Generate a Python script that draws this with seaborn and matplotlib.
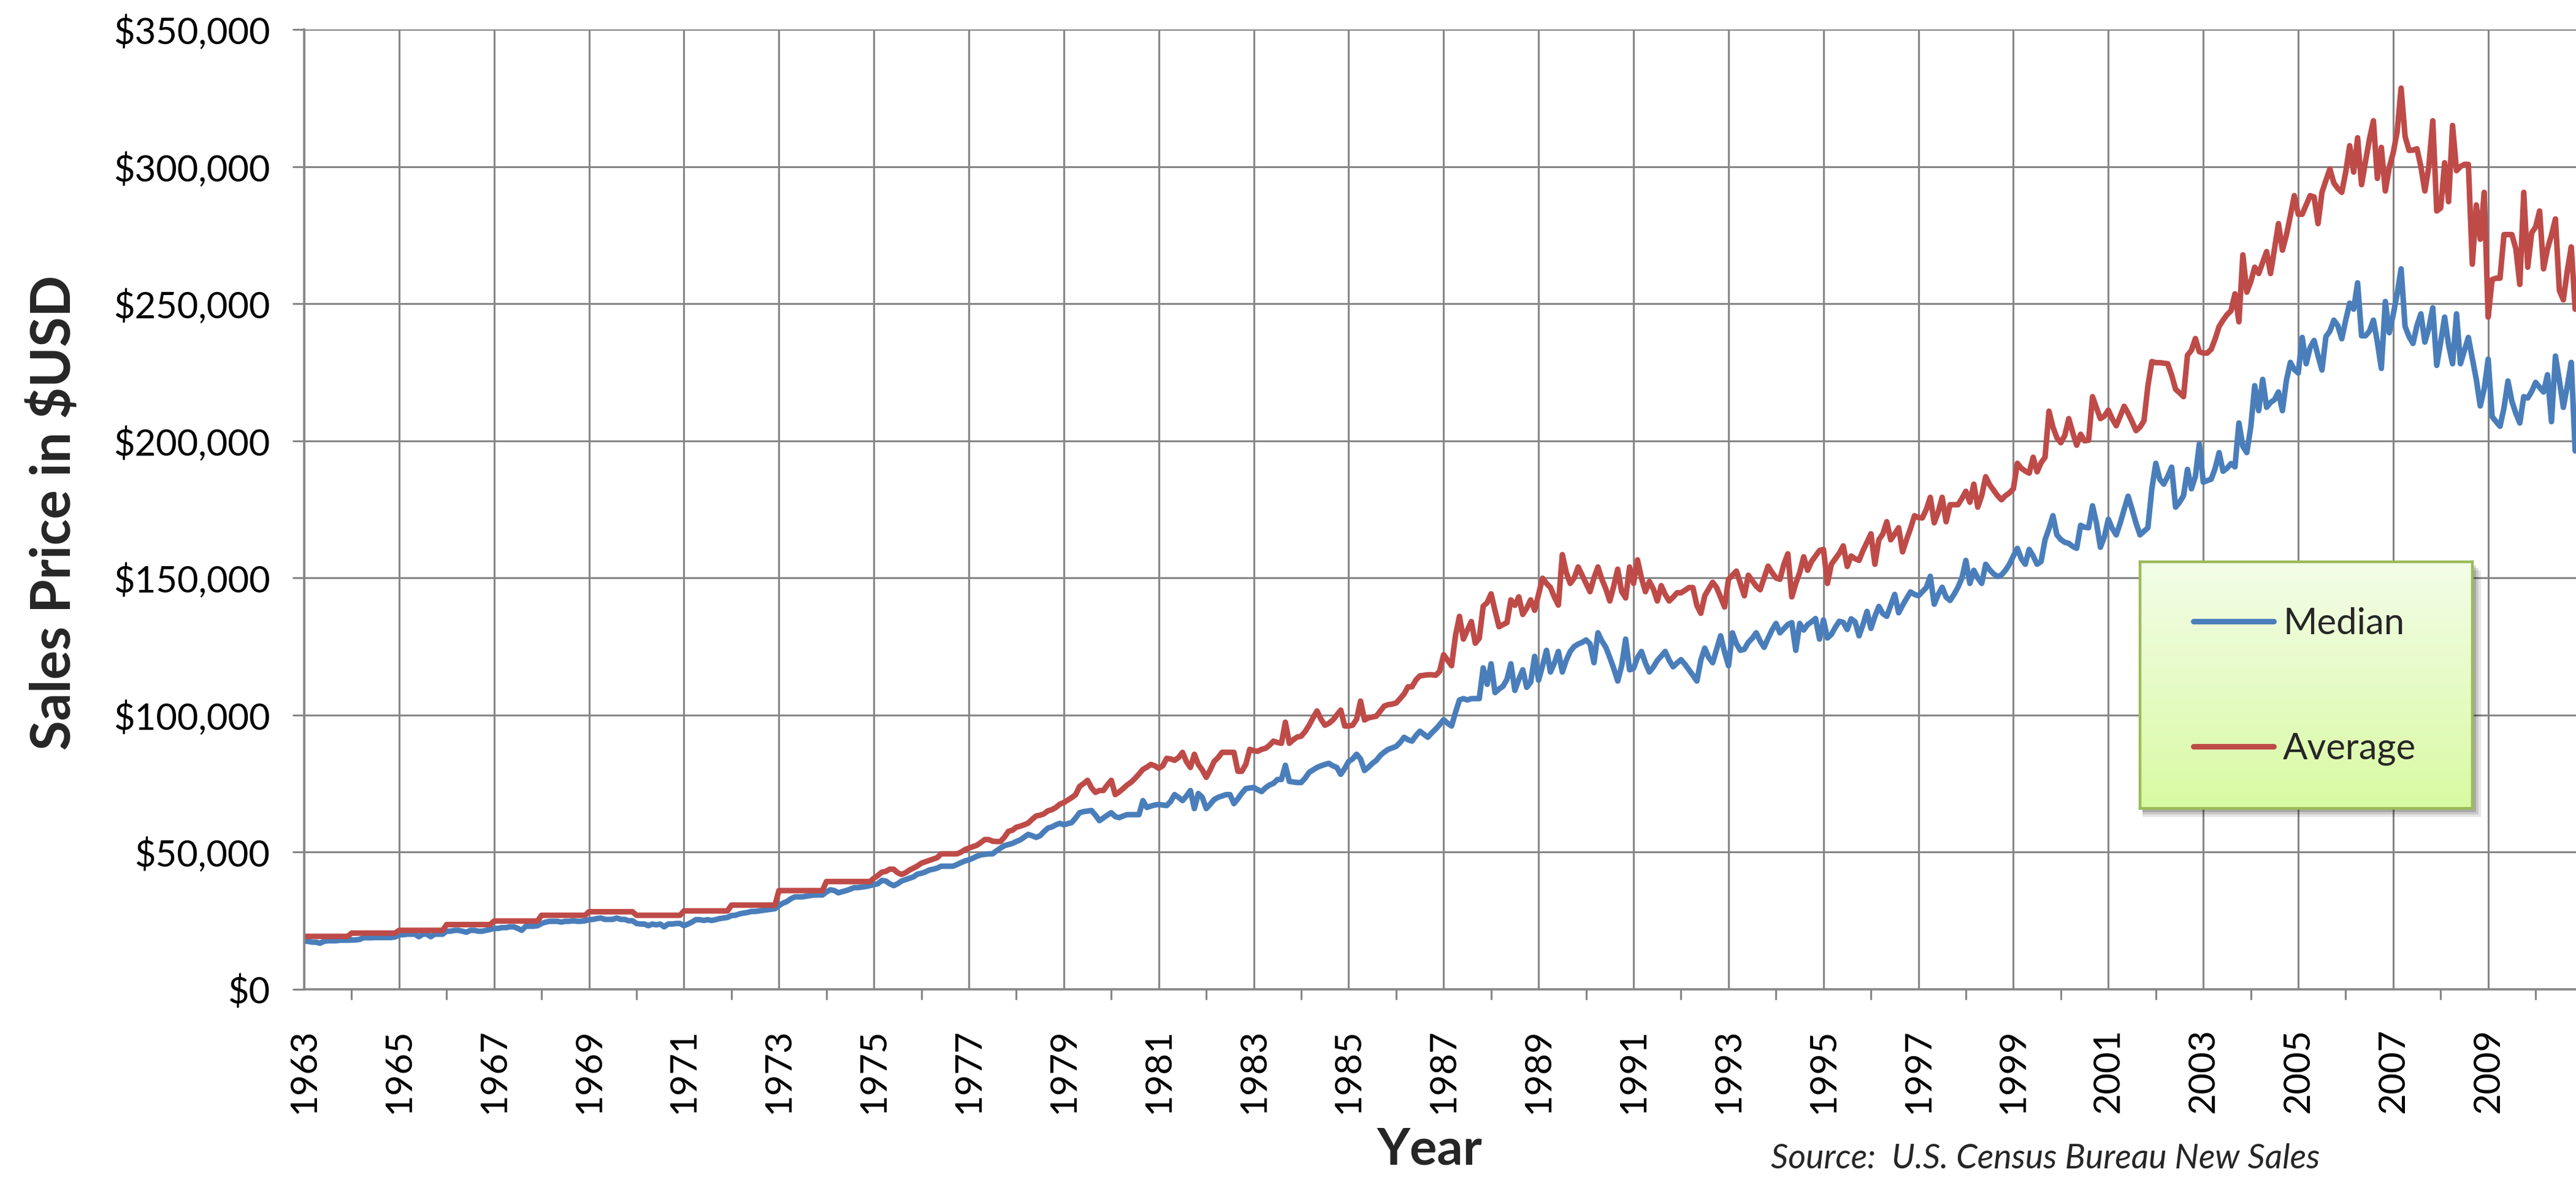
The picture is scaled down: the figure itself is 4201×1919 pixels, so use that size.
import numpy as np
import pandas as pd
import matplotlib
matplotlib.use("Agg")
import matplotlib.pyplot as plt
import seaborn as sns
from matplotlib.colors import LinearSegmentedColormap
from matplotlib.patches import Rectangle
from matplotlib.ticker import FuncFormatter, FixedLocator

# monthly new home sales prices, $ thousands, one row per year starting Jan 1963
START_YEAR = 1963

MEDIAN_K = [
    17.5, 17.5, 17.2, 17.2, 16.8, 17.5, 17.7, 17.7, 17.7, 17.9, 17.9, 17.9,
    18.0, 18.0, 18.2, 18.8, 18.8, 18.8, 18.9, 18.9, 18.9, 18.9, 18.9, 19.1,
    19.9, 19.9, 20.1, 20.1, 20.1, 19.2, 20.1, 20.1, 19.2, 20.1, 20.1, 20.1,
    21.2, 21.2, 21.5, 21.5, 21.2, 20.8, 21.5, 21.5, 21.2, 21.2, 21.5, 21.8,
    22.2, 22.2, 22.5, 22.5, 22.8, 22.8, 22.2, 21.5, 23.0, 23.0, 23.0, 23.2,
    24.0, 24.5, 24.8, 24.8, 24.8, 24.5, 24.8, 24.8, 25.0, 24.8, 24.8, 25.0,
    25.4, 25.5, 25.8, 26.0, 25.5, 25.5, 25.5, 26.0, 25.5, 25.5, 25.0, 25.0,
    24.0, 23.8, 23.8, 23.2, 23.8, 23.5, 23.8, 22.8, 23.8, 23.8, 24.0, 24.0,
    23.2, 23.8, 24.5, 25.4, 25.4, 25.1, 25.4, 25.1, 25.4, 25.8, 26.0, 26.2,
    26.9, 27.0, 27.5, 27.8, 28.0, 28.4, 28.4, 28.6, 28.8, 29.0, 29.2, 29.4,
    30.5, 31.4, 32.0, 33.0, 33.7, 33.7, 33.7, 34.0, 34.2, 34.4, 34.4, 34.4,
    35.5, 36.3, 36.0, 35.2, 35.6, 36.0, 36.5, 37.1, 37.1, 37.3, 37.5, 37.8,
    38.2, 38.5, 39.7, 39.5, 38.5, 37.8, 38.5, 39.5, 40.0, 40.5, 41.0, 42.0,
    42.3, 42.8, 43.5, 43.8, 44.2, 44.9, 44.9, 44.9, 44.9, 45.5, 46.2, 46.8,
    47.2, 47.8, 48.5, 49.0, 49.2, 49.4, 49.4, 50.5, 51.5, 52.4, 52.8, 53.2,
    53.9, 54.5, 55.5, 56.5, 56.0, 55.4, 56.0, 57.5, 58.8, 59.2, 60.0, 60.5,
    60.0, 60.4, 60.8, 62.5, 64.4, 64.8, 65.0, 65.2, 63.5, 61.5, 62.5, 63.5,
    64.4, 63.0, 62.6, 63.2, 63.7, 63.7, 63.7, 63.7, 68.8, 66.3, 66.8, 67.2,
    67.4, 67.2, 67.0, 68.5, 71.0, 70.0, 68.8, 70.5, 72.5, 65.9, 71.4, 70.0,
    65.9, 67.5, 69.2, 70.0, 70.5, 71.0, 71.0, 67.7, 69.5, 71.5, 73.2, 73.4,
    73.6, 72.8, 72.1, 73.5, 74.5, 75.1, 76.5, 76.5, 81.7, 75.8, 75.6, 75.4,
    75.4, 77.0, 79.1, 80.0, 80.9, 81.5, 82.0, 82.4, 81.5, 80.9, 78.4, 80.5,
    83.1, 84.0, 85.7, 84.0, 79.8, 81.0, 82.4, 83.5, 85.3, 86.5, 87.5, 88.0,
    88.6, 90.0, 91.9, 91.0, 90.5, 92.5, 94.1, 93.0, 91.9, 93.5, 94.9, 96.5,
    98.3, 97.0, 96.0, 101.0, 105.5, 106.0, 105.5, 106.0, 106.0, 106.0, 117.2, 111.2,
    118.7, 108.2, 109.5, 110.5, 113.0, 118.7, 109.0, 113.0, 116.5, 110.1, 112.0, 121.4,
    112.7, 118.0, 123.6, 115.7, 119.0, 123.2, 115.7, 120.0, 123.2, 125.0, 125.9, 126.5,
    127.4, 126.0, 119.1, 130.0, 127.0, 124.7, 121.0, 117.0, 112.4, 118.0, 127.7, 116.5,
    117.0, 121.0, 123.2, 119.0, 115.7, 117.5, 119.9, 121.5, 123.2, 120.0, 117.6, 119.0,
    120.2, 118.5, 116.5, 114.5, 112.4, 120.0, 124.4, 121.0, 119.1, 124.0, 128.9, 123.0,
    118.0, 130.0, 126.0, 123.6, 124.0, 126.5, 128.0, 130.0, 127.0, 124.7, 128.0, 131.0,
    133.4, 130.0, 131.5, 133.0, 133.7, 123.6, 133.4, 131.0, 133.0, 134.0, 135.2, 127.7,
    134.7, 128.1, 129.4, 132.0, 134.2, 133.8, 131.2, 135.1, 134.0, 128.9, 133.0, 137.8,
    131.6, 136.0, 139.6, 137.0, 136.0, 140.0, 144.0, 137.3, 140.0, 142.5, 144.9, 144.0,
    143.5, 145.0, 146.5, 150.6, 140.4, 144.0, 146.6, 143.0, 141.8, 144.0, 146.6, 150.0,
    156.4, 148.0, 152.8, 150.0, 148.0, 155.0, 153.0, 151.5, 150.5, 151.1, 152.8, 155.0,
    158.0, 160.8, 157.0, 155.0, 160.4, 158.0, 155.0, 156.0, 163.9, 168.0, 172.7, 165.7,
    164.0, 163.0, 162.6, 161.5, 160.8, 169.2, 168.5, 168.3, 176.3, 170.0, 161.2, 165.0,
    171.4, 168.0, 165.7, 170.0, 175.0, 179.8, 175.0, 170.0, 165.7, 167.0, 168.3, 182.5,
    191.8, 186.0, 184.2, 187.0, 190.4, 175.8, 177.6, 180.0, 189.6, 182.5, 187.0, 198.8,
    184.9, 185.5, 186.0, 190.0, 195.7, 188.9, 190.0, 191.7, 190.5, 206.5, 198.0, 195.7,
    205.0, 220.1, 211.0, 222.4, 212.2, 214.0, 215.0, 217.8, 211.0, 222.0, 228.6, 226.0,
    224.7, 237.7, 228.1, 234.0, 236.6, 231.0, 225.8, 238.0, 240.0, 244.0, 242.0, 237.2,
    244.0, 250.2, 248.0, 257.6, 238.3, 238.3, 240.0, 244.0, 236.0, 226.4, 250.8, 239.4,
    246.0, 253.6, 262.7, 241.7, 238.0, 235.5, 242.0, 246.3, 236.0, 241.0, 248.5, 227.5,
    236.0, 245.1, 235.0, 228.1, 246.3, 228.1, 233.0, 237.7, 230.0, 222.4, 212.7, 219.0,
    229.8, 208.8, 207.0, 205.3, 212.0, 221.8, 214.4, 210.0, 206.5, 216.1, 215.6, 218.0,
    221.3, 219.5, 217.8, 224.1, 207.0, 230.9, 222.0, 212.2, 220.0, 228.6, 196.3, 213.4,
]

AVERAGE_K = [
    19.3, 19.3, 19.3, 19.3, 19.3, 19.3, 19.3, 19.3, 19.3, 19.3, 19.3, 19.3,
    20.5, 20.5, 20.5, 20.5, 20.5, 20.5, 20.5, 20.5, 20.5, 20.5, 20.5, 20.5,
    21.5, 21.5, 21.5, 21.5, 21.5, 21.5, 21.5, 21.5, 21.5, 21.5, 21.5, 21.5,
    23.6, 23.6, 23.6, 23.6, 23.6, 23.6, 23.6, 23.6, 23.6, 23.6, 23.6, 23.6,
    24.9, 24.9, 24.9, 24.9, 24.9, 24.9, 24.9, 24.9, 24.9, 24.9, 24.9, 24.9,
    27.0, 27.0, 27.0, 27.0, 27.0, 27.0, 27.0, 27.0, 27.0, 27.0, 27.0, 27.0,
    28.3, 28.3, 28.3, 28.3, 28.3, 28.3, 28.3, 28.3, 28.3, 28.3, 28.3, 28.3,
    27.0, 27.0, 27.0, 27.0, 27.0, 27.0, 27.0, 27.0, 27.0, 27.0, 27.0, 27.0,
    28.6, 28.6, 28.6, 28.6, 28.6, 28.6, 28.6, 28.6, 28.6, 28.6, 28.6, 28.6,
    30.7, 30.7, 30.7, 30.7, 30.7, 30.7, 30.7, 30.7, 30.7, 30.7, 30.7, 30.7,
    36.0, 36.0, 36.0, 36.0, 36.0, 36.0, 36.0, 36.0, 36.0, 36.0, 36.0, 36.0,
    39.3, 39.3, 39.3, 39.3, 39.3, 39.3, 39.3, 39.3, 39.3, 39.3, 39.3, 39.3,
    40.5, 41.5, 42.7, 43.0, 43.8, 43.8, 42.5, 41.9, 42.5, 43.5, 44.2, 45.0,
    46.0, 46.5, 47.0, 47.5, 48.0, 49.4, 49.4, 49.4, 49.4, 49.4, 50.0, 50.9,
    51.5, 52.0, 52.5, 53.5, 54.6, 54.6, 54.0, 53.9, 53.9, 55.5, 57.6, 58.0,
    59.1, 59.5, 60.0, 60.6, 62.0, 63.2, 63.5, 64.0, 65.1, 65.5, 66.3, 67.5,
    68.1, 69.0, 69.9, 71.0, 74.0, 75.0, 76.2, 73.5, 71.8, 72.5, 72.5, 74.5,
    76.2, 71.0, 72.0, 73.2, 74.5, 75.5, 76.9, 78.5, 80.2, 81.0, 82.0, 81.5,
    80.6, 81.5, 84.2, 84.0, 83.5, 84.5, 86.4, 83.0, 80.9, 85.7, 82.0, 80.0,
    77.3, 80.0, 83.1, 84.5, 86.4, 86.4, 86.4, 86.4, 79.5, 79.5, 82.0, 87.5,
    87.0, 86.8, 87.5, 87.9, 89.0, 90.5, 90.0, 89.7, 97.4, 89.7, 91.0, 92.0,
    92.3, 94.0, 96.3, 99.0, 101.5, 98.5, 96.3, 97.0, 98.2, 100.0, 101.8, 96.0,
    96.0, 96.3, 98.5, 105.1, 98.2, 99.0, 99.3, 99.6, 101.5, 103.3, 103.8, 104.0,
    104.4, 106.0, 107.7, 110.3, 110.3, 112.8, 114.3, 114.5, 114.7, 114.7, 114.5, 116.0,
    122.0, 120.0, 118.0, 129.0, 136.0, 127.7, 131.0, 134.1, 126.2, 128.0, 139.7, 141.0,
    144.2, 138.0, 132.2, 133.0, 133.7, 142.0, 140.0, 143.1, 136.7, 139.0, 142.0, 138.2,
    144.0, 149.9, 148.0, 146.5, 143.0, 140.1, 158.5, 152.0, 148.0, 150.0, 154.0, 151.0,
    148.0, 145.0, 150.0, 154.0, 149.5, 146.0, 141.6, 147.0, 153.2, 145.0, 142.7, 154.0,
    148.0, 156.6, 150.0, 145.0, 148.7, 146.0, 141.6, 147.2, 144.0, 141.6, 143.0, 144.6,
    144.6, 145.5, 146.5, 146.5, 140.0, 137.1, 143.5, 146.0, 148.4, 146.5, 143.0, 139.4,
    149.5, 151.0, 152.5, 148.0, 143.5, 151.0, 149.0, 147.0, 145.7, 150.0, 154.3, 152.0,
    150.0, 149.5, 155.0, 158.8, 143.1, 148.0, 152.0, 157.7, 152.8, 156.0, 158.0, 160.0,
    160.4, 148.0, 155.0, 157.0, 159.0, 161.7, 154.2, 158.0, 157.0, 156.4, 160.0, 163.0,
    166.1, 155.0, 163.9, 166.0, 170.5, 163.9, 166.0, 168.3, 159.5, 164.0, 168.0, 172.7,
    172.0, 171.9, 175.0, 179.4, 170.1, 174.0, 179.4, 170.5, 176.7, 176.7, 176.7, 179.0,
    181.6, 177.6, 184.2, 175.8, 180.0, 186.9, 184.0, 182.0, 180.0, 178.5, 180.0, 181.0,
    182.5, 191.8, 190.0, 189.0, 188.2, 194.0, 188.7, 192.0, 194.0, 210.8, 205.0, 201.1,
    199.3, 202.0, 208.1, 203.0, 198.4, 202.4, 200.0, 200.2, 216.1, 212.0, 208.1, 209.0,
    211.2, 208.0, 205.5, 209.0, 212.6, 210.0, 207.0, 203.7, 205.0, 207.3, 220.0, 228.9,
    228.5, 228.5, 228.3, 228.1, 224.0, 218.8, 217.5, 216.1, 231.2, 233.0, 237.3, 232.5,
    232.0, 232.0, 233.4, 237.2, 241.7, 244.0, 246.0, 247.4, 253.6, 243.4, 267.8, 254.2,
    258.0, 263.3, 261.0, 265.0, 269.0, 261.0, 270.0, 279.2, 269.5, 275.0, 282.0, 289.4,
    282.6, 282.6, 286.0, 289.4, 288.9, 279.2, 290.6, 295.0, 299.1, 294.0, 292.0, 290.6,
    298.0, 307.6, 298.0, 310.5, 293.4, 301.9, 310.0, 316.7, 295.7, 307.0, 291.1, 299.7,
    305.0, 312.7, 328.6, 311.0, 305.9, 306.0, 306.5, 300.0, 291.1, 300.0, 316.7, 283.8,
    284.9, 301.4, 287.2, 315.0, 298.5, 300.0, 300.8, 300.8, 264.4, 286.0, 273.5, 290.6,
    245.1, 258.8, 259.3, 259.3, 275.2, 275.2, 275.2, 270.0, 257.0, 290.6, 263.3, 275.8,
    278.0, 283.8, 262.7, 270.0, 275.0, 280.9, 254.8, 251.4, 262.0, 270.7, 248.0, 268.4,
]

SERIES_NAMES = ["Median", "Average"]
SERIES_COLORS = ["#4A7EBB", "#BE4B48"]
YEAR_LABELS = list(range(1963, 2010, 2))
MINOR_YEARS = list(range(1964, 2011, 2))
Y_TICKS = list(range(0, 350001, 50000))

months = np.arange(len(MEDIAN_K))
df = pd.DataFrame({
    "year": START_YEAR + months / 12.0,
    "Median": np.array(MEDIAN_K) * 1000,
    "Average": np.array(AVERAGE_K) * 1000,
})

sns.set_style("white")
plt.rcParams["font.family"] = ["Lato", "DejaVu Sans"]

W, H = 4201, 1919
GRID = "#868686"
fig = plt.figure(figsize=(W / 100, H / 100), dpi=100)
fig.patch.set_facecolor("white")

ax = fig.add_axes([496 / W, 1 - 1613 / H, (W - 496) / W, (1613 - 48) / H])
for name, color in zip(SERIES_NAMES, SERIES_COLORS):
    sns.lineplot(data=df, x="year", y=name, ax=ax, color=color, linewidth=6.5,
                 estimator=None, legend=False, solid_joinstyle="round")
ax.set_xlim(1963, 2010.85)
ax.set_ylim(0, 350000)
ax.set_xlabel("")
ax.set_ylabel("")

ax.set_xticks(YEAR_LABELS)
ax.set_xticklabels([str(y) for y in YEAR_LABELS], rotation=90)
ax.xaxis.set_minor_locator(FixedLocator(MINOR_YEARS))
ax.set_yticks(Y_TICKS)
ax.yaxis.set_major_formatter(FuncFormatter(lambda v, p: f"${v:,.0f}"))

ax.grid(True, which="major", color=GRID, linewidth=2.2)
ax.set_axisbelow(True)
for side in ["top", "right"]:
    ax.spines[side].set_visible(False)
for side in ["left", "bottom"]:
    ax.spines[side].set_color(GRID)
    ax.spines[side].set_linewidth(2.6)
ax.tick_params(axis="x", which="major", length=16, width=2.2, color=GRID,
               labelsize=43, pad=30, labelcolor="black")
ax.tick_params(axis="x", which="minor", length=12, width=2.2, color=GRID, bottom=True)
ax.tick_params(axis="y", which="major", length=14, width=2.2, color=GRID,
               labelsize=43, pad=26, labelcolor="black", left=True)

fig.text(88 / W, 1 - 836 / H, "Sales Price in $USD", rotation=90, ha="center",
         va="center", fontsize=64, fontweight="bold")
fig.text(2331 / W, 1 - 1875 / H, "Year", ha="center", va="center",
         fontsize=60, fontweight="bold")
fig.text(2888 / W, 1 - 1889 / H, "Source:  U.S. Census Bureau New Sales", ha="left",
         va="center", fontsize=40, style="italic")

# legend box with green gradient and soft shadow
bx0, by0, bx1, by1 = 3490, 916, 4032, 1318
for k, a in enumerate([0.10, 0.12, 0.16]):
    off = 14 - 4 * k
    fig.add_artist(Rectangle(((bx0 + 4) / W, 1 - (by1 + off) / H),
                             (bx1 - bx0 + off - 4) / W, (by1 - by0) / H,
                             transform=fig.transFigure, facecolor="black",
                             edgecolor="none", alpha=a, zorder=2))
lax = fig.add_axes([bx0 / W, 1 - by1 / H, (bx1 - bx0) / W, (by1 - by0) / H])
lax.set_zorder(3)
grad_cmap = LinearSegmentedColormap.from_list("lg", ["#F3FDE8", "#D9FAA3"])
lax.imshow(np.linspace(0, 1, 256).reshape(-1, 1), cmap=grad_cmap, aspect="auto",
           extent=[0, 1, 0, 1], origin="upper")
lax.set_xticks([])
lax.set_yticks([])
for s in lax.spines.values():
    s.set_color("#9BBB59")
    s.set_linewidth(3.2)
lax.legend(handles=ax.lines[:2], labels=SERIES_NAMES, loc="upper left",
           bbox_to_anchor=(0.16, 0.815), frameon=False, fontsize=43,
           handlelength=2.2, handletextpad=0.25, labelspacing=2.5,
           borderpad=0, borderaxespad=0)

fig.savefig("out.png", dpi=100, facecolor="white")
